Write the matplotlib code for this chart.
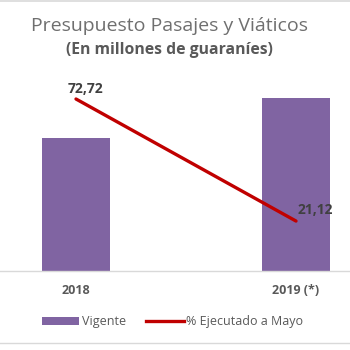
import matplotlib
matplotlib.use("Agg")
import matplotlib.pyplot as plt
from matplotlib.lines import Line2D
from matplotlib.patches import Patch

categories = ["2018", "2019 (*)"]
vigente = [13.3, 17.3]
ejecutado = [72.72, 21.12]
ejecutado_labels = ["72,72", "21,12"]

plt.rcParams['font.family'] = ['Open Sans', 'DejaVu Sans']

W, H = 350, 350
fig = plt.figure(figsize=(3.5, 3.5), dpi=100)
fig.patch.set_facecolor("white")

top_px, bot_px = 80, 271
ax = fig.add_axes([0, 1 - bot_px / H, 1, (bot_px - top_px) / H])
x = [0, 1]
ax.bar(x, vigente, width=0.31, color="#8064A2", zorder=2)
ax.set_xlim(-76 / 220, 1 + 54 / 220)
ax.set_ylim(0, 13.3 * (bot_px - top_px) / (271 - 138))
for s in ["top", "right", "left"]:
    ax.spines[s].set_visible(False)
ax.spines["bottom"].set_color("#D9D9D9")
ax.spines["bottom"].set_linewidth(1)
ax.set_yticks([])
ax.set_xticks(x)
ax.set_xticklabels(categories, fontsize=9, fontweight="bold", color="#595959")
ax.tick_params(axis="x", length=0, pad=9)

ax2 = ax.twinx()
ax2.plot(x, ejecutado, color="#C00000", linewidth=2.4, zorder=3, solid_capstyle="round")
ax2.set_ylim(0, 72.72 * (bot_px - top_px) / (271 - 99))
ax2.set_yticks([])
for s in ax2.spines.values():
    s.set_visible(False)
ax2.annotate(ejecutado_labels[0], (x[0], ejecutado[0]), xytext=(10, 10),
             textcoords="offset pixels", ha="center", va="center",
             fontsize=10, fontweight="bold", color="#404040")
ax2.annotate(ejecutado_labels[1], (x[1], ejecutado[1]), xytext=(2, 11),
             textcoords="offset pixels", ha="left", va="center",
             fontsize=10, fontweight="bold", color="#404040")

fig.text(0.484, 1 - 26 / H, "Presupuesto Pasajes y Viáticos", ha="center", va="center",
         fontsize=14, color="#6F6F6F")
fig.text(0.484, 1 - 50 / H, "(En millones de guaraníes)", ha="center", va="center",
         fontsize=11.3, fontweight="bold", color="#595959")

handles = [Patch(facecolor="#8064A2", edgecolor="none"),
           Line2D([0], [0], color="#C00000", linewidth=2.4)]
leg = fig.legend(handles, ["Vigente", "% Ejecutado a Mayo"], loc="center",
                 bbox_to_anchor=(0.493, 1 - 322 / H), ncol=2, frameon=False,
                 fontsize=9, handlelength=3.0, handleheight=0.55, columnspacing=1.6,
                 handletextpad=0.2)
for t in leg.get_texts():
    t.set_color("#595959")

fig.add_artist(Line2D([0, 1], [1 - 1 / H, 1 - 1 / H], color="#D9D9D9", linewidth=1.2,
                      transform=fig.transFigure))
fig.add_artist(Line2D([0, 1], [1 - 343 / H, 1 - 343 / H], color="#D9D9D9", linewidth=1,
                      transform=fig.transFigure))

fig.savefig("out.png", dpi=100)
